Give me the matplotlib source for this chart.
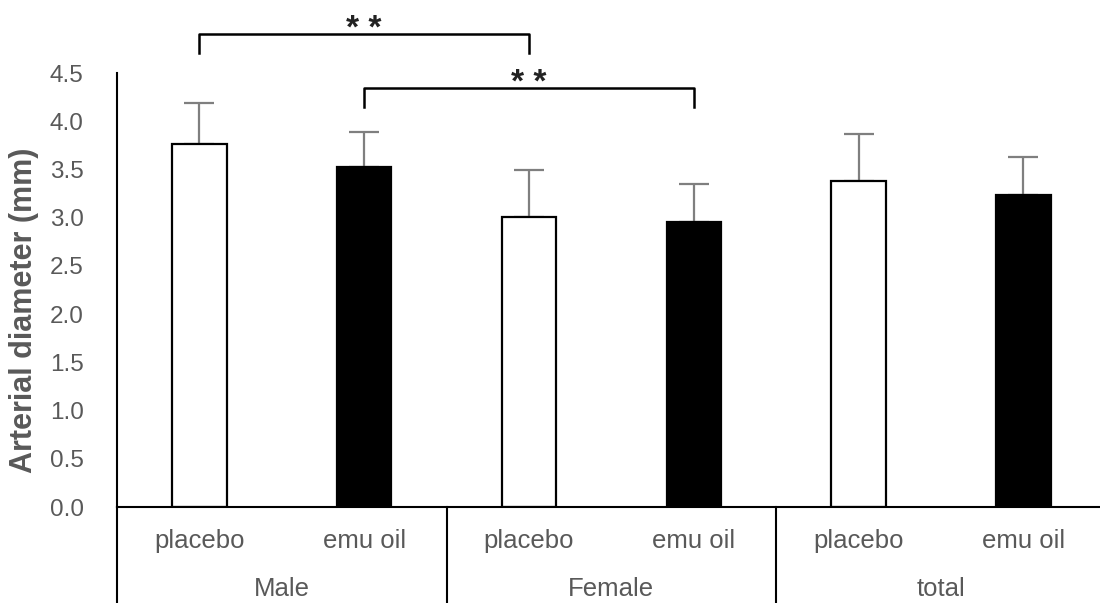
import matplotlib.pyplot as plt
import numpy as np

plt.rcParams["font.family"] = ["Liberation Sans", "DejaVu Sans"]

# ---------------------------------------------------------------------------
# Data
# ---------------------------------------------------------------------------
groups = ["Male", "Female", "total"]
treatments = ["placebo", "emu oil"]
means = [3.76, 3.53, 3.01, 2.95, 3.38, 3.24]
sds = [0.43, 0.36, 0.48, 0.40, 0.49, 0.39]
fills = ["white", "black", "white", "black", "white", "black"]

# significance brackets: (left bar, right bar, bracket height, label)
brackets = [(0, 2, 4.90, "* *"), (1, 3, 4.34, "* *")]

TEXT = "#595959"

fig = plt.figure(figsize=(11, 6.03), dpi=100)
ax = fig.add_axes([117 / 1100, 96 / 603, 6 * 164.8 / 1100, 434 / 603])

x = np.arange(len(means))
ax.bar(x, means, width=0.33, color=fills, edgecolor="black", linewidth=1.6, zorder=2)
ax.errorbar(x, means, yerr=[np.zeros(len(sds)), sds], fmt="none",
            ecolor="#7f7f7f", elinewidth=1.6, capsize=11, capthick=1.6, zorder=1)

ax.set_xlim(-0.5, len(means) - 0.5)
ax.set_ylim(0, 4.5)
ax.set_yticks(np.arange(0, 4.51, 0.5))
ax.set_yticklabels([f"{v:.1f}" for v in np.arange(0, 4.51, 0.5)])
ax.tick_params(axis="y", length=0, pad=24, labelsize=17.5, labelcolor=TEXT)
ax.set_xticks([])

for side in ("top", "right"):
    ax.spines[side].set_visible(False)
for side in ("left", "bottom"):
    ax.spines[side].set_linewidth(1.5)

ax.set_ylabel("Arterial diameter (mm)", fontsize=22, fontweight="bold", color=TEXT)
ax.yaxis.set_label_coords(-0.079, 0.454)

# two-level category axis below the bars
trans = ax.get_xaxis_transform()
for i in range(len(means)):
    ax.text(x[i], -0.078, treatments[i % 2], transform=trans,
            ha="center", va="center", fontsize=18.5, color=TEXT)
for g, name in enumerate(groups):
    ax.text(2 * g + 0.5, -0.19, name, transform=trans,
            ha="center", va="center", fontsize=18.5, color=TEXT)
for b in np.arange(-0.5, len(means), 2):
    ax.plot([b, b], [0, -0.23], transform=trans, color="black",
            linewidth=1.5, clip_on=False)

# significance brackets
for a, b, h, label in brackets:
    ax.plot([x[a], x[a], x[b], x[b]], [h - 0.19, h, h, h - 0.19],
            color="black", linewidth=1.8, clip_on=False)
    ax.text((x[a] + x[b]) / 2, h + 0.05, label, ha="center", va="center",
            fontsize=24, fontweight="bold", color="#222222", clip_on=False)

fig.savefig("out.png", dpi=100)
